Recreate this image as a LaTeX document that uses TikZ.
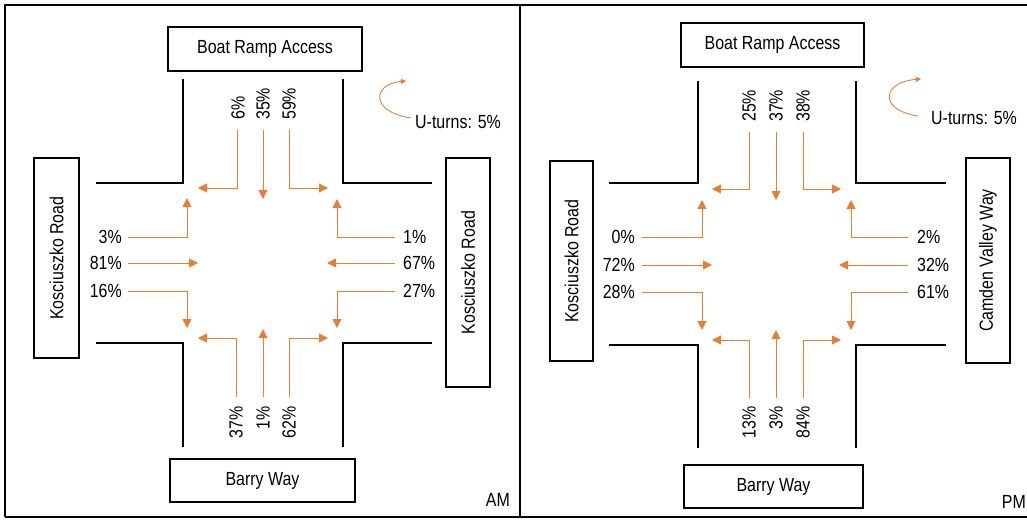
\documentclass[tikz,border=0pt]{standalone}
\usepackage{fontspec}
\setmainfont{Liberation Sans}[FakeStretch=0.84]
\usetikzlibrary{arrows.meta}
\definecolor{flow}{RGB}{226,128,58}
\tikzset{
  road/.style={line width=2.8pt,black},
  namebox/.style={draw=black,line width=1.3pt,fill=white},
  flowline/.style={draw=flow,line width=0.9pt,-{Triangle[length=9pt,width=9pt]}},
  pct/.style={font=\fontsize{19}{19}\selectfont,inner sep=0pt},
  lbl/.style={font=\fontsize{19}{19}\selectfont,inner sep=0pt},
  uturn/.style={draw=flow,line width=0.9pt,-{Triangle[length=5pt,width=5pt]}},
}
\begin{document}
\begin{tikzpicture}[x=1pt,y=-1pt]
\useasboundingbox (0,0) rectangle (1027,522);
% frame
\draw[line width=1.8pt] (5,517) -- (5,5) -- (1027,5);
\draw[line width=1.8pt] (5,517) -- (1027,517);
\draw[line width=1.8pt] (520,5) -- (520,517);

% ================= AM panel =================
\draw[namebox] (168,27) rectangle (362,71) node[lbl,pos=0.5] (amN) {Boat Ramp Access};
\draw[namebox] (170,459) rectangle (355,502) node[lbl,pos=0.5] (amS) {Barry Way};
\draw[namebox] (34,158) rectangle (79,358) node[lbl,pos=0.5,rotate=90] (amW) {Kosciuszko Road};
\draw[namebox] (446,158) rectangle (490,387) node[lbl,pos=0.5,rotate=90] (amE) {Kosciuszko Road};
\node[lbl,anchor=east] (amT) at (510,500) {AM};
% roads
\draw[road] (183,79) -- (183,183) -- (96,183);
\draw[road] (343,79) -- (343,183) -- (432,183);
\draw[road] (183,447) -- (183,343) -- (96,343);
\draw[road] (343,447) -- (343,343) -- (432,343);
% u-turn
\coordinate (amU1) at (411,118);
\coordinate (amU2) at (406,81);
\draw[uturn] (amU1) .. controls (370,112) and (372,84) .. (amU2);
\node[lbl,anchor=west] (amUt) at (415,122) {U-turns: 5\%};
% north approach
\draw[flowline] (237,130) |- (198,188);
\draw[flowline] (263,130) -- (263,199);
\draw[flowline] (289,130) |- (328,188);
\node[pct,rotate=90,anchor=west] (amN1) at (238,120) {6\%};
\node[pct,rotate=90,anchor=west] (amN2) at (263,120) {35\%};
\node[pct,rotate=90,anchor=west] (amN3) at (289,120) {59\%};
% west approach
\node[pct,anchor=east] (amW1) at (122,237) {3\%};
\node[pct,anchor=east] (amW2) at (122,263) {81\%};
\node[pct,anchor=east] (amW3) at (122,291) {16\%};
\draw[flowline] (128,237) -| (187,198);
\draw[flowline] (128,263) -- (198,263);
\draw[flowline] (128,291) -| (187,328);
% east approach
\node[pct,anchor=west] (amE1) at (403,237) {1\%};
\node[pct,anchor=west] (amE2) at (403,263) {67\%};
\node[pct,anchor=west] (amE3) at (403,291) {27\%};
\draw[flowline] (395,237) -| (337,199);
\draw[flowline] (395,263) -- (327,263);
\draw[flowline] (395,291) -| (337,328);
% south approach
\draw[flowline] (236,397) |- (198,338);
\draw[flowline] (263,397) -- (263,329);
\draw[flowline] (289,397) |- (328,338);
\node[pct,rotate=90,anchor=east] (amS1) at (236,406) {37\%};
\node[pct,rotate=90,anchor=east] (amS2) at (263,406) {1\%};
\node[pct,rotate=90,anchor=east] (amS3) at (289,406) {62\%};

% ================= PM panel =================
\draw[namebox] (681,23) rectangle (864,67) node[lbl,pos=0.5] (pmN) {Boat Ramp Access};
\draw[namebox] (684,465) rectangle (863,508) node[lbl,pos=0.5] (pmS) {Barry Way};
\draw[namebox] (550,161) rectangle (593,361) node[lbl,pos=0.5,rotate=90] (pmW) {Kosciuszko Road};
\draw[namebox] (966,158) rectangle (1010,363) node[lbl,pos=0.5,rotate=90] (pmE) {Camden Valley Way};
\node[lbl,anchor=east] (pmT) at (1026,502) {PM};
% roads
\draw[road] (698,81) -- (698,183) -- (609,183);
\draw[road] (856,81) -- (856,183) -- (946,183);
\draw[road] (698,448) -- (698,345) -- (609,345);
\draw[road] (856,448) -- (856,345) -- (946,345);
% u-turn
\coordinate (pmU1) at (918,116);
\coordinate (pmU2) at (921,79);
\draw[uturn] (pmU1) .. controls (878,110) and (882,82) .. (pmU2);
\node[lbl,anchor=west] (pmUt) at (931,118) {U-turns: 5\%};
% north approach
\draw[flowline] (749,132) |- (712,189);
\draw[flowline] (776,132) -- (776,200);
\draw[flowline] (803,132) |- (841,189);
\node[pct,rotate=90,anchor=west] (pmN1) at (749,122) {25\%};
\node[pct,rotate=90,anchor=west] (pmN2) at (776,122) {37\%};
\node[pct,rotate=90,anchor=west] (pmN3) at (803,122) {38\%};
% west approach
\node[pct,anchor=east] (pmW1) at (635,237) {0\%};
\node[pct,anchor=east] (pmW2) at (635,265) {72\%};
\node[pct,anchor=east] (pmW3) at (635,292) {28\%};
\draw[flowline] (642,237) -| (702,200);
\draw[flowline] (642,265) -- (712,265);
\draw[flowline] (642,292) -| (702,330);
% east approach
\node[pct,anchor=west] (pmE1) at (917,237) {2\%};
\node[pct,anchor=west] (pmE2) at (917,265) {32\%};
\node[pct,anchor=west] (pmE3) at (917,292) {61\%};
\draw[flowline] (908,237) -| (851,200);
\draw[flowline] (908,265) -- (839,265);
\draw[flowline] (908,292) -| (851,330);
% south approach
\draw[flowline] (749,398) |- (712,340);
\draw[flowline] (776,398) -- (776,330);
\draw[flowline] (803,398) |- (841,340);
\node[pct,rotate=90,anchor=east] (pmS1) at (749,406) {13\%};
\node[pct,rotate=90,anchor=east] (pmS2) at (776,406) {3\%};
\node[pct,rotate=90,anchor=east] (pmS3) at (803,406) {84\%};
\end{tikzpicture}
\end{document}
